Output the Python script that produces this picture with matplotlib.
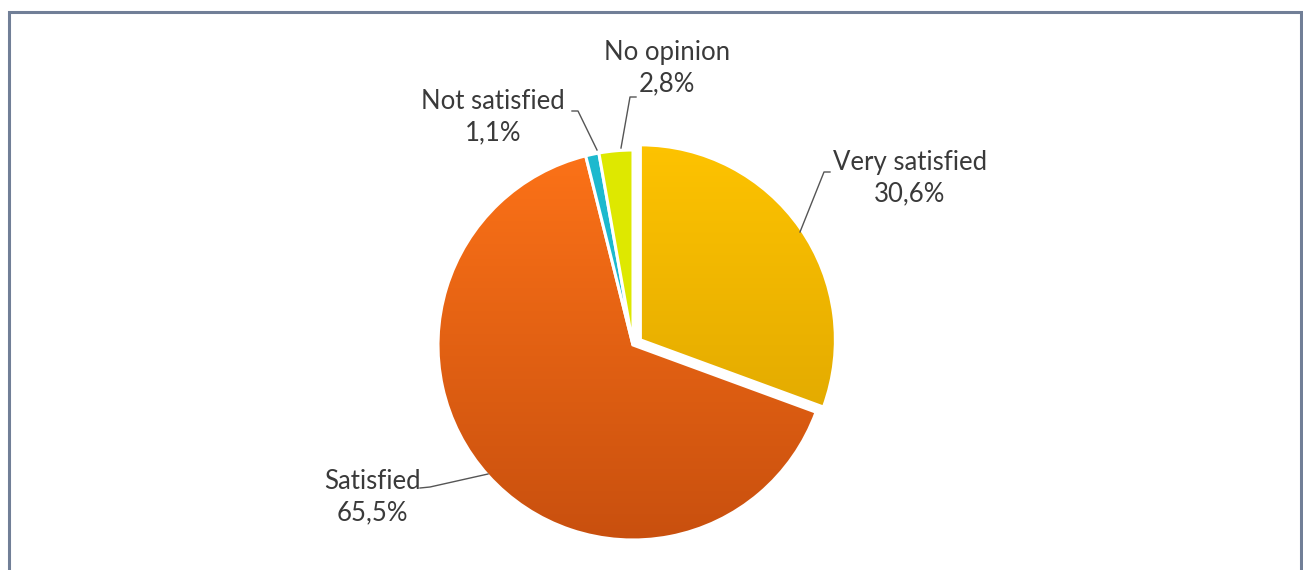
import matplotlib
matplotlib.use("Agg")
import matplotlib.pyplot as plt
import numpy as np
from matplotlib.patches import Rectangle
from matplotlib.colors import LinearSegmentedColormap

labels = ["Very satisfied", "Satisfied", "Not satisfied", "No opinion"]
values = [30.6, 65.5, 1.1, 2.8]
value_text = ["30,6%", "65,5%", "1,1%", "2,8%"]

W, H = 1303, 570
fig = plt.figure(figsize=(W / 100, H / 100), dpi=100)
ax = fig.add_axes([0, 0, 1, 1])
ax.set_xlim(0, W)
ax.set_ylim(0, H)
ax.axis("off")

def Y(y):
    return H - y

cx, cy, R = 633, Y(345), 195
colors = ["#FFC000", "#F26B14", "#1DB9CE", "#DEE800"]
wedges, _ = ax.pie(values, startangle=90, counterclock=False, center=(cx, cy),
                   radius=R, colors=colors, explode=[9, 0, 0, 0],
                   wedgeprops=dict(edgecolor="white", linewidth=2.2))
ax.set_xlim(0, W)
ax.set_ylim(0, H)
ax.set_aspect("auto")

grads = {0: ("#FFC400", "#D59E00"), 1: ("#FF7418", "#C64E0E")}
for i, (c1, c2) in grads.items():
    w = wedges[i]
    cmap = LinearSegmentedColormap.from_list("g%d" % i, [c1, c2])
    grad = np.linspace(0, 1, 256).reshape(-1, 1)
    im = ax.imshow(grad, cmap=cmap, aspect="auto",
                   extent=[cx - R - 20, cx + R + 20, cy - R - 20, cy + R + 20],
                   origin="upper", zorder=w.get_zorder() - 0.1)
    im.set_clip_path(w)
    w.set_facecolor("none")

font = dict(family=["Lato", "DejaVu Sans"], fontsize=18.5, color="#3a3a3a",
            ha="center", va="center", linespacing=1.3)

# label positions (image pixels)
ax.text(910, Y(178), labels[0] + "\n" + value_text[0], **font)
ax.text(372, Y(497), labels[1] + "\n" + value_text[1], **font)
ax.text(493, Y(117), labels[2] + "\n" + value_text[2], **font)
ax.text(667, Y(68), labels[3] + "\n" + value_text[3], **font)

lc = dict(color="#555555", lw=1.0)
ax.plot([800, 824, 830], [Y(232), Y(172), Y(172)], **lc)
ax.plot([488, 430, 420], [Y(474), Y(487), Y(488)], **lc)
ax.plot([597, 578, 572], [Y(150), Y(111), Y(111)], **lc)
ax.plot([621, 630, 636], [Y(148), Y(97), Y(97)], **lc)

ax.add_patch(Rectangle((9, -20), 1292, Y(12) + 20, fill=False,
                       edgecolor="#717F97", lw=2.2, zorder=10))

fig.savefig("out.png", dpi=100)
